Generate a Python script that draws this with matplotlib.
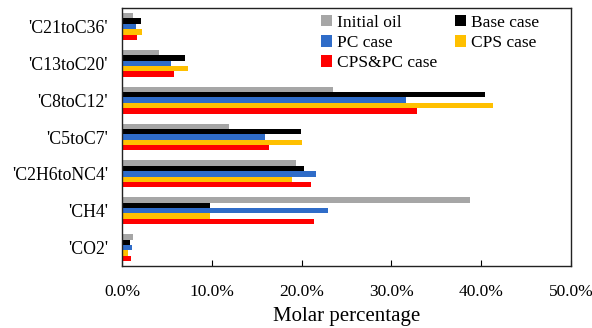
import matplotlib
matplotlib.use("Agg")
import matplotlib.pyplot as plt
import numpy as np
from matplotlib.patches import Patch
from matplotlib.ticker import FuncFormatter, MultipleLocator

plt.rcParams['font.family'] = ['Liberation Serif', 'DejaVu Serif']

categories = ["'CO2'", "'CH4'", "'C2H6toNC4'", "'C5toC7'", "'C8toC12'", "'C13toC20'", "'C21toC36'"]
initial_oil = [1.2, 38.7, 19.4, 11.9, 23.5, 4.1, 1.2]
base_case = [0.9, 9.8, 20.3, 19.9, 40.4, 7.0, 2.1]
pc_case = [1.1, 22.9, 21.6, 15.9, 31.6, 5.5, 1.6]
cps_case = [0.7, 9.8, 18.9, 20.1, 41.3, 7.3, 2.2]
cpspc_case = [1.0, 21.4, 21.0, 16.4, 32.9, 5.8, 1.7]

series = [
    ("Initial oil", initial_oil, "#a6a6a6"),
    ("Base case", base_case, "#000000"),
    ("PC case", pc_case, "#2f6cc8"),
    ("CPS case", cps_case, "#ffc000"),
    ("CPS&PC case", cpspc_case, "#ff0000"),
]

fig = plt.figure(figsize=(5.92, 3.28), dpi=100)
ax = fig.add_axes([0.206, 0.189, 0.7585, 0.7866])

y = np.arange(len(categories))
h = 0.146
n = len(series)
for i, (name, vals, col) in enumerate(series):
    offset = ((n - 1) / 2 - i) * h
    ax.barh(y + offset, vals, height=h, color=col, label=name, linewidth=0)

ax.set_ylim(-0.5, len(categories) - 0.5)
ax.set_xlim(0, 50)
ax.set_yticks(y)
ax.set_yticklabels(categories, fontsize=12.8)
ax.tick_params(axis='y', length=0, pad=10)
ax.xaxis.set_major_locator(MultipleLocator(10))
ax.xaxis.set_major_formatter(FuncFormatter(lambda v, p: f"{v:.1f}%"))
ax.tick_params(axis='x', direction='in', length=4, labelsize=12.5, pad=13, top=False)
for s in ax.spines.values():
    s.set_linewidth(1.0)
    s.set_color('#222222')
ax.set_xlabel("Molar percentage", fontsize=15, labelpad=5)

handles = {name: Patch(facecolor=col, edgecolor='none') for name, _, col in series}
order = ["Initial oil", "PC case", "CPS&PC case", "Base case", "CPS case"]
ax.legend([handles[o] for o in order], order, ncol=2, frameon=False,
          loc='upper left', bbox_to_anchor=(0.443, 0.974), fontsize=12.5,
          handlelength=0.65, handleheight=0.65, handletextpad=0.3,
          columnspacing=1.0, labelspacing=0.24, borderaxespad=0.0, borderpad=0.0)

fig.savefig("out.png", dpi=100)
